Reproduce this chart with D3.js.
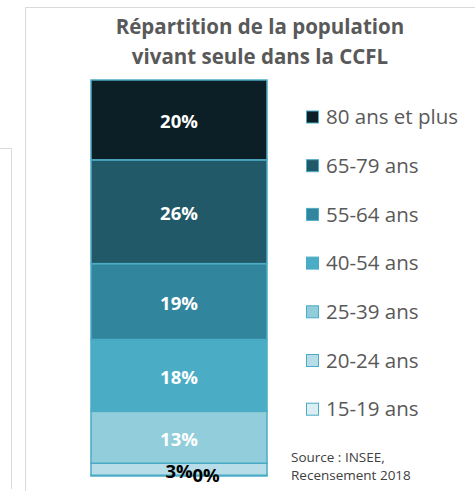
<!DOCTYPE html>
<html>
<head>
<meta charset="utf-8">
<script src="https://cdn.jsdelivr.net/npm/d3@7"></script>
<style>
  body { margin: 0; background: #fff; }
  text { font-family: "Open Sans", sans-serif; }
</style>
</head>
<body>
<div id="chart"></div>
<script>
const WIDTH  = 475;
const HEIGHT = 491;

// data, bottom of the stack first
const categories = ['15-19 ans', '20-24 ans', '25-39 ans', '40-54 ans', '55-64 ans', '65-79 ans', '80 ans et plus'];
const values     = [0.2, 3, 13, 18, 19, 26, 20];
const colors     = ['#daeef3', '#b7dee8', '#92cddc', '#4bacc6', '#31859c', '#215968', '#0d1f26'];
const titleLines = ['Répartition de la population', 'vivant seule dans la CCFL'];
const sourceLines = ['Source : INSEE,', 'Recensement 2018'];

const svg = d3.select('#chart').append('svg')
  .attr('width', WIDTH)
  .attr('height', HEIGHT);

// frames left over from the slide
svg.append('path')
  .attr('d', 'M0,148.5H11.5V489')
  .attr('fill', 'none')
  .attr('stroke', '#d9d9d9');
svg.append('path')
  .attr('d', 'M25.5,' + HEIGHT + 'V7.5H' + WIDTH)
  .attr('fill', 'none')
  .attr('stroke', '#d9d9d9');

// title
svg.append('text')
  .attr('x', 260)
  .attr('y', 34)
  .attr('text-anchor', 'middle')
  .attr('font-size', 20.5)
  .attr('font-weight', 'bold')
  .attr('fill', '#595959')
  .selectAll('tspan')
  .data(titleLines)
  .join('tspan')
    .attr('x', 260)
    .attr('dy', (d, i) => i === 0 ? 0 : 29.5)
    .text(d => d);

// stacked bar
const rows = categories.map((c, i) => ({ cat: c, value: values[i], color: colors[i] }));
const stack = d3.stack().keys(categories);
const series = stack([Object.fromEntries(categories.map((c, i) => [c, values[i]]))]);
const total = d3.sum(values);

const x = d3.scaleBand().domain(['CCFL']).range([91, 267]).padding(0);
const y = d3.scaleLinear().domain([0, total]).range([476, 80]);

const g = svg.append('g');
g.selectAll('rect')
  .data(series)
  .join('rect')
    .attr('x', x('CCFL'))
    .attr('width', x.bandwidth())
    .attr('y', d => y(d[0][1]))
    .attr('height', d => y(d[0][0]) - y(d[0][1]))
    .attr('fill', (d, i) => colors[i])
    .attr('stroke', '#4bacc6')
    .attr('stroke-width', 1.5);

// labels (the tiny ones overlap, as in the original)
g.selectAll('text.lbl')
  .data(series)
  .join('text')
    .attr('class', 'lbl')
    .attr('x', (d, i) => x('CCFL') + x.bandwidth() / 2 + (values[i] < 1 ? 27 : 0))
    .attr('y', (d, i) => (y(d[0][0]) + y(d[0][1])) / 2 + (values[i] < 1 ? 0 : 2))
    .attr('dy', '0.35em')
    .attr('text-anchor', 'middle')
    .attr('font-size', 18.5)
    .attr('font-weight', 'bold')
    .attr('fill', (d, i) => values[i] < 5 ? '#000' : '#fff')
    .text((d, i) => Math.round(values[i]) + '%');

// legend, top entry first
const legend = svg.append('g')
  .selectAll('g')
  .data(rows.slice().reverse())
  .join('g')
    .attr('transform', (d, i) => 'translate(306,' + (117 + i * 48.7) + ')');
legend.append('rect')
  .attr('x', 0.5)
  .attr('y', -6)
  .attr('width', 12)
  .attr('height', 12)
  .attr('fill', d => d.color)
  .attr('stroke', '#4bacc6');
legend.append('text')
  .attr('x', 20)
  .attr('dy', '0.35em')
  .attr('font-size', 20.5)
  .attr('fill', '#595959')
  .text(d => d.cat);

// source
svg.append('text')
  .attr('y', 462)
  .attr('font-size', 13.5)
  .attr('fill', '#404040')
  .selectAll('tspan')
  .data(sourceLines)
  .join('tspan')
    .attr('x', 291)
    .attr('dy', (d, i) => i === 0 ? 0 : 18)
    .text(d => d);
</script>
</body>
</html>
